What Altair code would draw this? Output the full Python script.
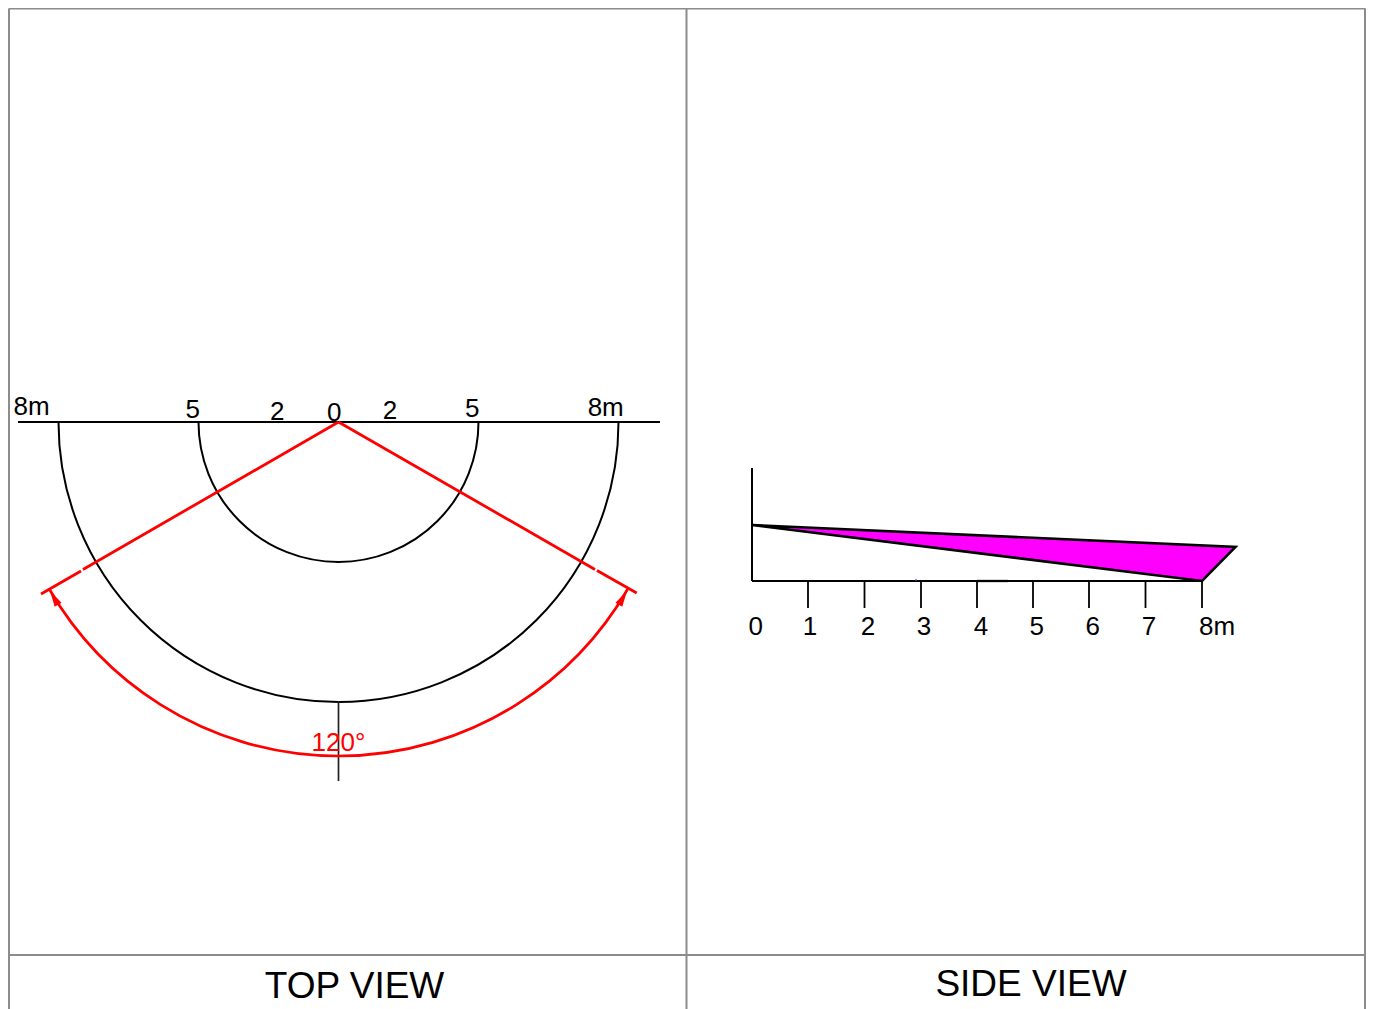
import math
import altair as alt
import pandas as pd

W, H = 1358, 1001
FONT = "Liberation Sans"
X = alt.Scale(domain=[8, 8 + W], range=[0, W])
Y = alt.Scale(domain=[8, 8 + H], range=[0, H])

# frame: x, y, x2, y2
frame = [
    (9, 8.5, 1365, 8.5), (9, 955, 1365, 955),
    (9, 8.5, 9, 1009), (686.5, 8.5, 686.5, 1009), (1365, 8.5, 1365, 1009),
]
black_lines = [(18, 422, 660, 422), (752, 468, 752, 581), (752, 581, 1202, 581)]
thin_lines = [(338.5, 701, 338.5, 781)]
tick_xs = [808, 864.5, 921, 977, 1033, 1089, 1145.5, 1202]
thick_bits = [(977, 581, 1008, 581)]
red_lines = [
    (338.5, 422, 83, 569.5), (81, 571, 41, 594),
    (338.5, 422, 595, 569.5), (597, 570.5, 636.7, 593),
]
blue_bits = [(915, 580.3, 917, 580.3)]

# arcs: centre x, centre y, radius, start and end angle in degrees clockwise from up
black_arcs = [(338.5, 422, 140, 90, 270), (338.5, 422, 280, 90, 270)]
red_arcs = [(338.5, 422, 334, 120, 240)]

# arrow heads: tip x, tip y, heading in degrees
arrows = [(50, 591, 329.5), (627, 591, 30.5)]

# side-view wedge
wedge_x = [752, 1202, 1235.5]
wedge_top = [525, 545.4, 547]
wedge_bot = [525, 581, 547]
wedge_outline = [(752, 525), (1235.5, 547), (1202, 581), (752, 525)]

# texts: label, x, baseline y
black_labels = [
    ("8m", 31.5, 415), ("5", 192.7, 417.5), ("2", 277.3, 420), ("0", 334.3, 420.5),
    ("2", 390, 419), ("5", 472.3, 416.5), ("8m", 605.7, 415.5),
    ("0", 755.7, 635), ("1", 810, 635), ("2", 868, 635), ("3", 924, 635),
    ("4", 981, 635), ("5", 1036.7, 635), ("6", 1092.7, 635), ("7", 1149, 635),
    ("8m", 1217, 635),
]
red_labels = [("120°", 338.5, 751)]
titles = [("TOP VIEW", 354.5, 998), ("SIDE VIEW", 1031, 996)]


def xq(f="x"):
    return alt.X(f"{f}:Q", scale=X, axis=None)


def yq(f="y"):
    return alt.Y(f"{f}:Q", scale=Y, axis=None)


def segs(rows, color, width):
    df = pd.DataFrame(rows, columns=["x", "y", "x2", "y2"])
    return alt.Chart(df).mark_rule(color=color, strokeWidth=width).encode(
        x=xq(), y=yq(), x2="x2:Q", y2="y2:Q"
    )


def arcs(rows, color, width):
    df = pd.DataFrame(rows, columns=["x", "y", "r", "a", "b"])
    df["a"] = df["a"].map(math.radians)
    df["b"] = df["b"].map(math.radians)
    return alt.Chart(df).mark_arc(filled=False, stroke=color, strokeWidth=width, fill=None).encode(
        x=xq(), y=yq(),
        radius=alt.Radius("r:Q", scale=None),
        radius2="r:Q",
        theta=alt.Theta("a:Q", scale=None),
        theta2="b:Q",
    )


def texts(rows, color, size):
    df = pd.DataFrame(rows, columns=["t", "x", "y"])
    return alt.Chart(df).mark_text(
        color=color, fontSize=size, font=FONT, align="center", baseline="alphabetic"
    ).encode(x=xq(), y=yq(), text="t:N")


wedge_df = pd.DataFrame({"x": wedge_x, "y": wedge_top, "y2": wedge_bot})
wedge = alt.Chart(wedge_df).mark_area(color="#ff00ff", opacity=1).encode(
    x=xq(), y=yq(), y2="y2:Q"
)
outline_df = pd.DataFrame(wedge_outline, columns=["x", "y"]).reset_index()
outline = alt.Chart(outline_df).mark_line(color="black", strokeWidth=2.6, strokeJoin="miter").encode(
    x=xq(), y=yq(), order="index:Q"
)
arrow_df = pd.DataFrame(arrows, columns=["x", "y", "a"])
arrow = alt.Chart(arrow_df).mark_point(
    shape="M0,0 L-0.25,1 L0.25,1 Z", filled=True, color="#ff0000", opacity=1, size=1024
).encode(x=xq(), y=yq(), angle=alt.Angle("a:Q", scale=None))

ticks = [(x, 581, x, 608) for x in tick_xs]

chart = alt.layer(
    segs(frame, "#8c8c8c", 2),
    arcs(black_arcs, "black", 2),
    segs(black_lines, "black", 2),
    segs(ticks, "black", 1.8),
    segs(thick_bits, "black", 2.3),
    segs(thin_lines, "#222222", 1.7),
    segs(blue_bits, "#2222cc", 1.5),
    wedge,
    outline,
    arcs(red_arcs, "#ff0000", 2.7),
    segs(red_lines, "#ff0000", 2.8),
    arrow,
    texts(black_labels, "black", 26),
    texts(red_labels, "#ff0000", 26),
    texts(titles, "black", 37),
).properties(
    width=W, height=H, padding=0, autosize=alt.AutoSizeParams(type="none")
).configure_view(stroke=None).configure(background="white")

chart.save("out.html", embed_options={"renderer": "svg", "actions": False})
